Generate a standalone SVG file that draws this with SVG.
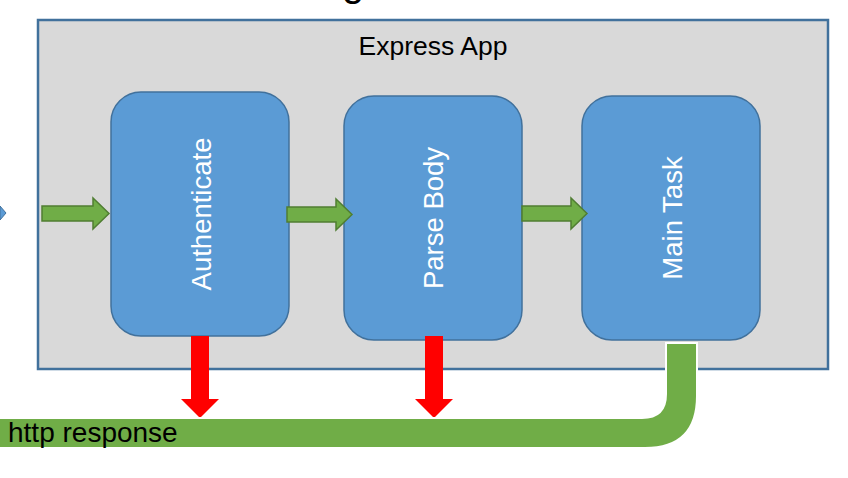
<svg xmlns="http://www.w3.org/2000/svg" width="848" height="478" viewBox="0 0 848 478">
<style>
.node{fill:#5B9BD5;stroke:#41719C;stroke-width:1.5}
.lbl{font-family:"Liberation Sans",Arial,sans-serif;font-size:27.5px;fill:#fff;text-anchor:middle}
.blk{font-family:"Liberation Sans",Arial,sans-serif;fill:#000}
.garrow{fill:#70AD47;stroke:#507E32;stroke-width:1.5}
.rarrow{fill:#FF0000}
</style>
<rect x="0" y="0" width="848" height="478" fill="#fff"/>
<text class="blk" x="342" y="-4" font-size="40">g</text>
<polygon points="0,206 6,213 0,220" fill="#5B9BD5" stroke="#41719C" stroke-width="1"/>
<g id="express-app">
<rect x="38" y="20" width="790" height="349" fill="#D9D9D9" stroke="#41719C" stroke-width="2.5"/>
<text class="blk" x="433" y="55" font-size="26.5" text-anchor="middle">Express App</text>
</g>
<g id="authenticate">
<rect class="node" x="111" y="92" width="178" height="244" rx="30"/>
<text class="lbl" transform="translate(211,214) rotate(-90)">Authenticate</text>
</g>
<g id="parse-body">
<rect class="node" x="344" y="96" width="178" height="244" rx="30"/>
<text class="lbl" transform="translate(443,218) rotate(-90)">Parse Body</text>
</g>
<g id="main-task">
<rect class="node" x="582" y="96" width="178" height="244" rx="30"/>
<text class="lbl" transform="translate(682,218) rotate(-90)">Main Task</text>
</g>
<g id="connectors">
<polygon class="garrow" points="42,206 93,206 93,198 109,213.5 93,229 93,221 42,221"/>
<polygon class="garrow" points="287,207 336,207 336,199 352,214.5 336,230 336,222 287,222"/>
<polygon class="garrow" points="522,206 571,206 571,198 587,213.5 571,229 571,221 522,221"/>
<polygon class="rarrow" points="191,336 209,336 209,399 219,399 200,418 181,399 191,399"/>
<polygon class="rarrow" points="425,336 443,336 443,399 453,399 434,418 415,399 425,399"/>
<path d="M -2,418 L 642,418 Q 666,418 666,394 L 666,343 L 697,343 L 697,396 Q 697,448 645,448 L -2,448 Z" fill="#70AD47" stroke="#fff" stroke-width="2"/>
<text class="blk" x="8" y="442" font-size="28">http response</text>
</g>
</svg>
